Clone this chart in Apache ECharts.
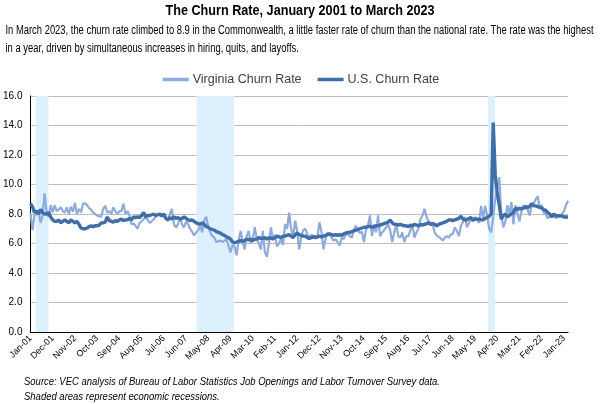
<!DOCTYPE html>
<html>
<head>
<meta charset="utf-8">
<script src="https://cdn.jsdelivr.net/npm/echarts@6/dist/echarts.min.js"></script>
<style>
html,body{margin:0;padding:0;background:#fff;}
#chart{width:602px;height:404px;}
</style>
</head>
<body>
<div id="chart"></div>
<script>
// Month index 0 = Jan 2001 ... 266 = Mar 2023
const tickLabels = ['Jan-01','Dec-01','Nov-02','Oct-03','Sep-04','Aug-05','Jul-06','Jun-07','May-08','Apr-09','Mar-10','Feb-11','Jan-12','Dec-12','Nov-13','Oct-14','Sep-15','Aug-16','Jul-17','Jun-18','May-19','Apr-20','Mar-21','Feb-22','Jan-23'];

const virginiaChurn = [
  8.1, 6.9, 7.9, 8.0, 8.2, 7.4, 7.9, 9.4, 8.1, 7.8, 8.6, 8.1,
  8.6, 8.2, 8.3, 8.45, 8.2, 8.1, 8.45, 8.0, 8.5, 8.15, 8.75, 8.0,
  8.35, 8.1, 8.7, 8.75, 8.6, 8.4, 8.3, 8.1, 8.0, 7.9, 7.85, 7.8,
  8.35, 8.55, 8.1, 8.2, 8.0, 8.45, 8.2, 8.0, 8.2, 8.2, 8.7, 8.0,
  8.2, 7.9, 7.3, 7.35, 7.2, 7.0, 7.4, 7.5, 7.65, 7.8, 7.6, 7.4,
  7.5, 7.65, 7.8, 8.0, 7.9, 7.9, 8.0, 7.7, 7.55, 8.0, 8.35, 7.3,
  7.1, 7.3, 7.8, 7.3, 7.1, 7.5, 7.3, 7.0, 6.8, 6.55, 6.75, 6.9,
  7.2, 6.75, 7.6, 7.8, 7.1, 6.75, 6.5, 6.4, 6.1, 6.15, 6.2, 6.1,
  6.2, 6.3, 5.85, 5.4, 5.9, 5.8, 5.2, 6.2, 6.85, 6.1, 5.6, 6.5,
  6.85, 6.0, 6.3, 7.1, 6.3, 6.0, 5.6, 6.85, 5.4, 5.1, 6.0, 7.1,
  6.2, 6.6, 5.8, 6.0, 6.3, 5.9, 7.3, 7.0, 8.1, 7.0, 6.5, 7.55,
  6.8, 5.6, 6.5, 6.9, 7.0, 6.6, 6.4, 6.6, 6.5, 6.5, 6.4, 7.45,
  6.8, 5.6, 6.3, 6.75, 6.6, 6.4, 6.2, 6.3, 6.1, 5.85, 6.4, 6.3,
  6.6, 6.65, 6.5, 6.4, 6.9, 7.2, 6.9, 6.7, 6.8, 6.1, 6.9, 7.2,
  7.9, 6.5, 7.3, 6.75, 7.9, 6.5, 6.75, 6.9, 7.1, 7.3, 6.9, 6.1,
  6.75, 7.3, 6.5, 6.4, 6.75, 6.1, 6.5, 6.5, 6.9, 7.3, 6.4, 6.75,
  7.0, 7.65, 7.9, 8.35, 7.8, 7.5, 7.4, 7.3, 6.75, 6.55, 6.45, 6.35,
  6.2, 6.4, 6.5, 6.4, 6.6, 6.65, 7.1, 6.85, 6.5, 7.2, 7.45, 7.8,
  7.1, 7.4, 7.6, 7.5, 7.8, 7.6, 7.4, 8.55, 7.7, 8.55, 7.9, 7.0,
  6.75, 7.8, 9.0, 9.8, 10.5, 7.9, 7.1, 7.5, 8.6, 8.0, 8.8, 7.3,
  8.6, 8.0, 7.5, 8.2, 8.6, 8.4, 8.3, 7.9, 8.6, 8.7, 9.0, 9.2,
  8.4, 8.6, 8.1, 8.0, 7.7, 7.9, 7.8, 7.9, 7.7, 7.9, 7.8, 8.0,
  8.2, 8.6, 8.9
];

const usChurn = [
  8.7, 8.5, 8.1, 8.2, 8.0, 8.3, 8.1, 8.0, 8.0, 8.1, 7.8, 7.6,
  7.5, 7.5, 7.6, 7.4, 7.5, 7.6, 7.5, 7.4, 7.6, 7.5, 7.4, 7.5,
  7.3, 7.05, 7.0, 7.0, 7.05, 7.15, 7.2, 7.15, 7.2, 7.2, 7.25, 7.4,
  7.4, 7.45, 7.8, 7.55, 7.5, 7.45, 7.55, 7.5, 7.6, 7.65, 7.55, 7.6,
  7.6, 7.7, 7.6, 7.8, 7.75, 7.8, 7.75, 7.9, 8.1, 7.8, 7.9, 7.9,
  7.95, 8.0, 7.9, 7.95, 8.0, 7.85, 8.0, 7.7, 7.6, 7.75, 7.65, 7.8,
  7.7, 7.75, 7.65, 7.7, 7.8, 7.7, 7.6, 7.55, 7.6, 7.5, 7.4, 7.35,
  7.3, 7.4, 7.3, 7.15, 7.1, 7.0, 6.95, 6.9, 6.8, 6.75, 6.7, 6.6,
  6.55, 6.45, 6.4, 6.3, 6.1, 6.05, 6.1, 6.15, 6.2, 6.15, 6.2, 6.3,
  6.25, 6.3, 6.2, 6.3, 6.3, 6.4, 6.35, 6.35, 6.4, 6.3, 6.4, 6.35,
  6.35, 6.4, 6.5, 6.45, 6.4, 6.5, 6.5, 6.55, 6.6, 6.5, 6.4, 6.6,
  6.7, 6.6, 6.55, 6.5, 6.5, 6.4, 6.35, 6.4, 6.45, 6.4, 6.45, 6.5,
  6.45, 6.5, 6.55, 6.6, 6.65, 6.6, 6.55, 6.6, 6.55, 6.6, 6.55, 6.65,
  6.7, 6.75, 6.75, 6.8, 6.85, 6.9, 6.95, 7.0, 7.05, 7.1, 7.1, 7.15,
  7.15, 7.1, 7.15, 7.2, 7.2, 7.25, 7.3, 7.35, 7.4, 7.45, 7.6, 7.4,
  7.3, 7.3, 7.25, 7.3, 7.25, 7.2, 7.2, 7.15, 7.25, 7.2, 7.3, 7.25,
  7.2, 7.3, 7.25, 7.3, 7.35, 7.4, 7.3, 7.35, 7.3, 7.2, 7.3, 7.35,
  7.4, 7.45, 7.5, 7.6, 7.6, 7.55, 7.6, 7.65, 7.7, 7.85, 7.65, 7.6,
  7.6, 7.7, 7.75, 7.6, 7.65, 7.65, 7.65, 7.6, 7.6, 7.7, 7.75, 7.85,
  8.0, 14.2, 10.6, 9.4, 8.6, 7.65, 7.9, 8.0, 7.8, 7.9, 8.0, 8.1,
  8.4, 8.3, 8.4, 8.35, 8.4, 8.5, 8.45, 8.5, 8.7, 8.55, 8.55, 8.5,
  8.45, 8.4, 8.3, 8.25, 8.1, 8.0, 7.8, 8.0, 7.9, 7.85, 7.9, 7.85,
  7.8, 7.8, 7.8
];

// Recession periods, in month-index units
const recessionStart = [2.6, 82.2, 226.4];
const recessionEnd = [8.9, 100.7, 229.9];

const titleText = 'The Churn Rate, January 2001 to March 2023';
const noteLines = [
  'In March 2023, the churn rate climbed to 8.9 in the Commonwealth, a little faster rate of churn than the national rate. The rate was the highest',
  'in a year, driven by simultaneous increases in hiring, quits, and layoffs.'
];
const sourceLines = [
  'Source: VEC analysis of Bureau of Labor Statistics Job Openings and Labor Turnover Survey data.',
  'Shaded areas represent economic recessions.'
];

const FONT = '"Liberation Sans", Arial, sans-serif';

// horizontal condensing factor (reference uses a narrow typeface)
const measureCtx = document.createElement('canvas').getContext('2d');
function textWidth(text, size, weight, style) {
  measureCtx.font = (style || 'normal') + ' ' + (weight || 'normal') + ' ' + size + 'px "Liberation Sans", Arial, sans-serif';
  return measureCtx.measureText(text).width;
}
const titleScale = 269 / textWidth(titleText, 15, 'bold');
const noteScale = 588 / textWidth(noteLines[0], 12.5);
const sourceScale = 416 / textWidth(sourceLines[0], 11.5, 'normal', 'italic');

function txt(x, y, text, size, weight, style, align, scale) {
  return {
    type: 'text', x: x, y: y, scaleX: scale, silent: true,
    style: {
      text: text, fontFamily: FONT, fontSize: size, fontWeight: weight || 'normal',
      fontStyle: style || 'normal', fill: '#000', align: align || 'left', verticalAlign: 'middle'
    }
  };
}

const chart = echarts.init(document.getElementById('chart'), null, {renderer: 'canvas'});
const lastIndex = virginiaChurn.length - 1;

chart.setOption({
  animation: false,
  backgroundColor: '#ffffff',
  graphic: [
    txt(300, 11, titleText, 15, 'bold', 'normal', 'center', titleScale),
    txt(5.5, 31, noteLines[0], 12.5, 'normal', 'normal', 'left', noteScale),
    txt(5.5, 49, noteLines[1], 12.5, 'normal', 'normal', 'left', noteScale),
    txt(24, 382, sourceLines[0], 11.5, 'normal', 'italic', 'left', sourceScale),
    txt(24, 397, sourceLines[1], 11.5, 'normal', 'italic', 'left', sourceScale)
  ],
  legend: {
    top: 68,
    left: 'center',
    itemWidth: 26,
    itemHeight: 3.5,
    itemGap: 16,
    textStyle: {fontFamily: FONT, fontSize: 12.5, color: '#404040', padding: [0, 0, 0, -1]},
    data: [
      {name: 'Virginia Churn Rate', icon: 'rect'},
      {name: 'U.S. Churn Rate', icon: 'rect'}
    ]
  },
  grid: {left: 30, right: 34, top: 96, bottom: 72, containLabel: false},
  xAxis: {
    type: 'value',
    min: 0,
    max: lastIndex,
    interval: 11,
    axisLine: {show: true, onZero: false, lineStyle: {color: '#000', width: 1}},
    axisTick: {show: false},
    splitLine: {show: false},
    axisLabel: {
      rotate: 45,
      margin: 5,
      fontFamily: FONT,
      fontSize: 9,
      color: '#000',
      showMaxLabel: false,
      formatter: function (v) {
        return (v % 11 === 0 && tickLabels[v / 11] !== undefined) ? tickLabels[v / 11] : '';
      }
    }
  },
  yAxis: {
    type: 'value',
    min: 0,
    max: 16,
    interval: 2,
    axisLine: {show: true, lineStyle: {color: '#000', width: 1}},
    axisTick: {show: false},
    splitLine: {show: true, lineStyle: {color: '#BFBFBF', width: 1}},
    axisLabel: {
      fontFamily: FONT,
      fontSize: 10,
      color: '#000',
      margin: 8,
      formatter: function (v) { return v.toFixed(1); }
    }
  },
  series: [
    {
      name: 'Recessions',
      type: 'line',
      z: -1,
      silent: true,
      data: [],
      markArea: {
        silent: true,
        itemStyle: {color: '#DDF0FD'},
        data: recessionStart.map((s, k) => [{xAxis: s}, {xAxis: recessionEnd[k]}])
      }
    },
    {
      name: 'Virginia Churn Rate',
      type: 'line',
      symbol: 'none',
      z: 3,
      lineStyle: {color: '#8FAADC', width: 2.2},
      itemStyle: {color: '#8FAADC'},
      data: virginiaChurn.map((v, i) => [i, v])
    },
    {
      name: 'U.S. Churn Rate',
      type: 'line',
      symbol: 'none',
      z: 4,
      lineStyle: {color: '#3F6EA8', width: 3.4},
      itemStyle: {color: '#3F6EA8'},
      data: usChurn.map((v, i) => [i, v])
    }
  ]
});
</script>
</body>
</html>
